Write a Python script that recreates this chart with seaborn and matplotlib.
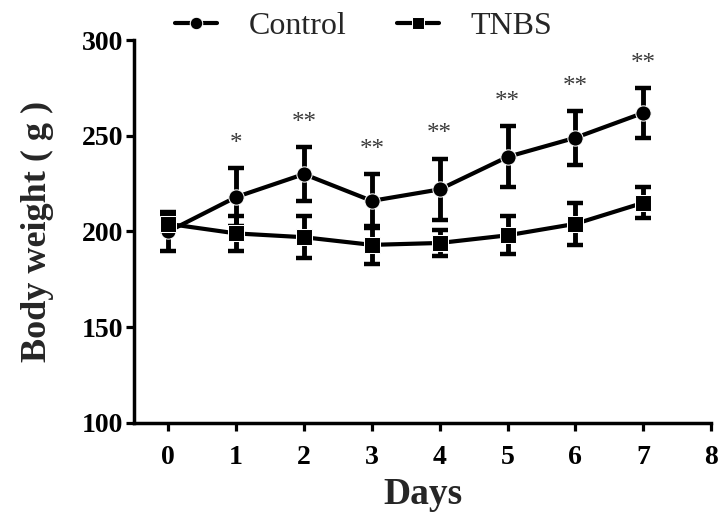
"""
Body weight over days, Control vs TNBS, mean +/- SD
"""

import matplotlib
matplotlib.use('Agg')
import matplotlib.pyplot as plt
import seaborn as sns
import pandas as pd

days = [0, 1, 2, 3, 4, 5, 6, 7]
control_mean = [200, 218, 230, 216, 222, 239, 249, 262]
control_err = [10, 15, 14, 14, 16, 16, 14, 13]
tnbs_mean = [204, 199, 197, 193, 194, 198, 204, 215]
tnbs_err = [4, 9, 11, 10, 7, 10, 11, 8]
marks = ['', '*', '**', '**', '**', '**', '**', '**']

sns.set_theme(style='ticks')
plt.rcParams['font.family'] = ['Liberation Serif', 'DejaVu Serif']

df = pd.concat([
    pd.DataFrame({'Days': days, 'weight': control_mean, 'err': control_err, 'group': 'Control'}),
    pd.DataFrame({'Days': days, 'weight': tnbs_mean, 'err': tnbs_err, 'group': 'TNBS'}),
])

fig = plt.figure(figsize=(7.22, 5.15), dpi=100)
ax = fig.add_axes([0.186, 0.179, 0.799, 0.743])

sns.lineplot(data=df, x='Days', y='weight', hue='group', style='group',
             markers={'Control': 'o', 'TNBS': 's'}, dashes=False,
             palette={'Control': 'black', 'TNBS': 'black'},
             linewidth=3, markersize=11, ax=ax, zorder=3)

for grp, sub in df.groupby('group'):
    ax.errorbar(sub['Days'], sub['weight'], yerr=sub['err'], fmt='none',
                ecolor='black', elinewidth=3.5, capsize=6, capthick=3.2, zorder=2)

# significance marks above the control error bars
for d, m, e, mk in zip(days, control_mean, control_err, marks):
    if mk:
        ax.text(d, m + e + 7, mk, ha='center', va='bottom', fontsize=18,
                color='#3a3a3a')

ax.set_xlim(-0.5, 8)
ax.set_ylim(100, 300)
ax.set_xticks(range(0, 9))
ax.set_yticks([100, 150, 200, 250, 300])
ax.set_xlabel('Days', fontsize=27, fontweight='bold', labelpad=5)
ax.set_ylabel('Body weight ( g )', fontsize=26, fontweight='bold', labelpad=20)

for lbl in ax.get_xticklabels() + ax.get_yticklabels():
    lbl.set_fontweight('bold')
ax.tick_params(axis='both', labelsize=20, width=2.3, length=6, color='black',
               labelcolor='black')
ax.tick_params(axis='x', pad=10)
ax.tick_params(axis='y', pad=2)

sns.despine(ax=ax)
for s in ['left', 'bottom']:
    ax.spines[s].set_linewidth(2.5)
    ax.spines[s].set_color('black')

handles, labels = ax.get_legend_handles_labels()
for h in handles:
    h.set_markersize(9)
ax.legend(handles, labels, loc='lower center', bbox_to_anchor=(0.398, 0.965),
          ncol=2, frameon=False, fontsize=23, handlelength=1.3,
          handletextpad=1.0, columnspacing=1.6, borderaxespad=0)

fig.savefig('out.png', dpi=100)
